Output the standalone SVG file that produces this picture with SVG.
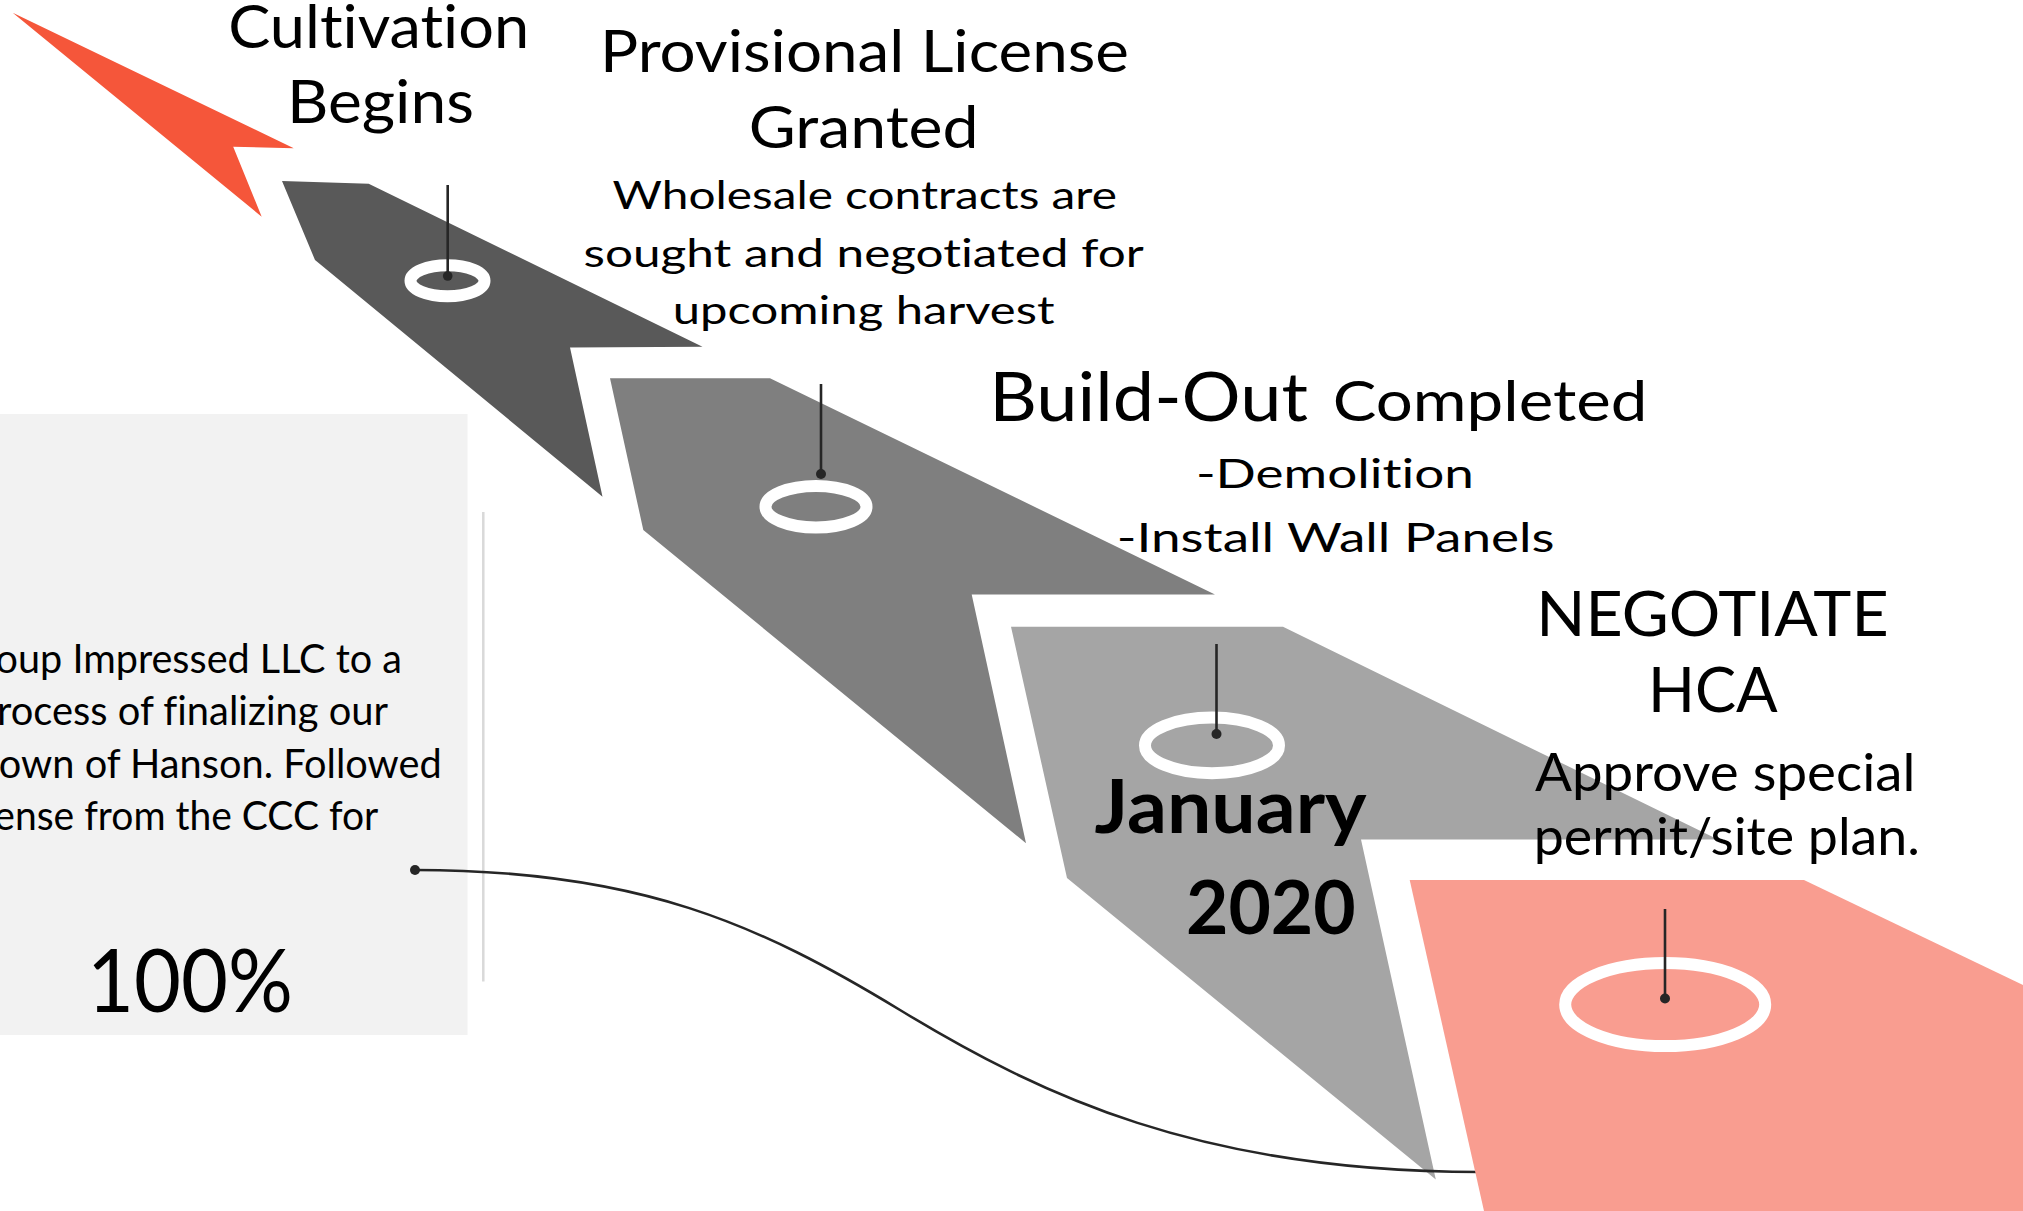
<svg xmlns="http://www.w3.org/2000/svg" width="2023" height="1211" viewBox="0 0 2023 1211">
<style>
text{font-variant-ligatures:none;font-feature-settings:"liga" 0,"clig" 0}
.ring{fill:none;stroke:#FFFFFF;stroke-width:12}
.stem{stroke:#262626;stroke-width:2.6;fill:none}
.dot{fill:#262626}
.head{font-family:Lato,"Liberation Sans",sans-serif;font-weight:400;fill:#000000}
.body{font-family:Lato,"Liberation Sans",sans-serif;font-weight:400;fill:#000000}
.bold{font-family:Lato,"Liberation Sans",sans-serif;font-weight:700;fill:#000000}
</style>
<rect x="0" y="0" width="2023" height="1211" fill="#FFFFFF"/>

<g id="panel">
  <rect x="0" y="414" width="467.5" height="621" fill="#F2F2F2"/>
  <line x1="483.3" y1="512" x2="483.3" y2="981.6" stroke="#D9D9D9" stroke-width="2.5"/>
  <g class="body" font-size="40" text-anchor="end">
    <text x="402" y="672.5" textLength="420" lengthAdjust="spacingAndGlyphs">roup Impressed LLC to a</text>
    <text x="388" y="725" textLength="391" lengthAdjust="spacingAndGlyphs">rocess of finalizing our</text>
    <text x="441.7" y="777.5" textLength="457" lengthAdjust="spacingAndGlyphs">town of Hanson. Followed</text>
    <text x="378.3" y="830" textLength="384" lengthAdjust="spacingAndGlyphs">ense from the CCC for</text>
  </g>
  <text class="body" x="87" y="1012" font-size="88" textLength="206" lengthAdjust="spacingAndGlyphs">100%</text>
</g>

<g id="arrow-tip">
  <polygon points="12.7,12.7 293.8,148.3 233.2,146.7 261.7,216.7" fill="#F5563A"/>
</g>

<g id="step1">
  <polygon points="282,181 368.7,183.7 702.5,346.7 570,347.5 602.5,496.7 315,260" fill="#595959"/>
  <ellipse class="ring" cx="447.5" cy="280.8" rx="37" ry="15.5"/>
  <line class="stem" x1="447.7" y1="185" x2="447.7" y2="276"/>
  <circle class="dot" cx="447.7" cy="276" r="4.8"/>
  <text class="head" x="228.2" y="47.7" font-size="60" textLength="301" lengthAdjust="spacingAndGlyphs">Cultivation</text>
  <text class="head" x="287" y="122.7" font-size="60" textLength="187" lengthAdjust="spacingAndGlyphs">Begins</text>
</g>

<g id="step2">
  <polygon points="610,378.3 770,378.3 1215,594.5 971.7,594.5 1026,843.3 643.3,530" fill="#7F7F7F"/>
  <ellipse class="ring" cx="816" cy="506.7" rx="50.5" ry="20.8"/>
  <line class="stem" x1="821" y1="384" x2="821" y2="474"/>
  <circle class="dot" cx="821" cy="474" r="5"/>
  <text class="head" x="600" y="71.7" font-size="58" textLength="529" lengthAdjust="spacingAndGlyphs">Provisional License</text>
  <text class="head" x="748.7" y="148.3" font-size="58" textLength="230" lengthAdjust="spacingAndGlyphs">Granted</text>
  <text class="head" x="612.5" y="209" font-size="38" textLength="504.5" lengthAdjust="spacingAndGlyphs">Wholesale contracts are</text>
  <text class="head" x="583.5" y="266.7" font-size="38" textLength="560.3" lengthAdjust="spacingAndGlyphs">sought and negotiated for</text>
  <text class="head" x="672.8" y="323.5" font-size="38" textLength="381.7" lengthAdjust="spacingAndGlyphs">upcoming harvest</text>
</g>

<g id="step3">
  <polygon points="1011,626.7 1283,626.7 1718,839.6 1361,839.6 1435.8,1179.6 1067,878" fill="#A5A5A5"/>
  <ellipse class="ring" cx="1212" cy="745.4" rx="67" ry="27.8"/>
  <line class="stem" x1="1216.5" y1="644" x2="1216.5" y2="734"/>
  <circle class="dot" cx="1216.5" cy="734" r="5"/>
  <text class="head" x="989.3" y="421" font-size="67" textLength="318.7" lengthAdjust="spacingAndGlyphs">Build-Out</text>
  <text class="head" x="1332.7" y="421" font-size="57" textLength="314.7" lengthAdjust="spacingAndGlyphs">Completed</text>
  <text class="head" x="1195.9" y="488.3" font-size="40" textLength="278" lengthAdjust="spacingAndGlyphs">-Demolition</text>
  <text class="head" x="1116.8" y="551.7" font-size="40" textLength="437.8" lengthAdjust="spacingAndGlyphs">-Install Wall Panels</text>
  <text class="bold" x="1094.6" y="832.7" font-size="74" textLength="272" lengthAdjust="spacingAndGlyphs">January</text>
  <text class="bold" x="1186" y="934.1" font-size="74" textLength="169.6" lengthAdjust="spacingAndGlyphs">2020</text>
</g>

<g id="connectors">
  <path d="M415,870 C640,870 760,925 900,1010 C1040,1095 1200,1172 1480,1172" fill="none" stroke="#262626" stroke-width="2.6"/>
  <circle class="dot" cx="415" cy="870" r="5"/>
</g>

<g id="step4">
  <polygon points="1409.7,880 1804,880 2100,1022 2100,1211 1484,1211" fill="#F99D90"/>
  <ellipse class="ring" cx="1665.2" cy="1004.6" rx="100" ry="41.5"/>
  <line class="stem" x1="1665" y1="909" x2="1665" y2="998.5"/>
  <circle class="dot" cx="1665" cy="998.5" r="5"/>
  <text class="head" x="1536.3" y="636.3" font-size="62" textLength="352.3" lengthAdjust="spacingAndGlyphs">NEGOTIATE</text>
  <text class="head" x="1647.9" y="711.6" font-size="62" textLength="129.8" lengthAdjust="spacingAndGlyphs">HCA</text>
  <text class="head" x="1535" y="791.3" font-size="53" textLength="380.4" lengthAdjust="spacingAndGlyphs">Approve special</text>
  <text class="head" x="1533.7" y="854.9" font-size="53" textLength="386.3" lengthAdjust="spacingAndGlyphs">permit/site plan.</text>
</g>
</svg>
